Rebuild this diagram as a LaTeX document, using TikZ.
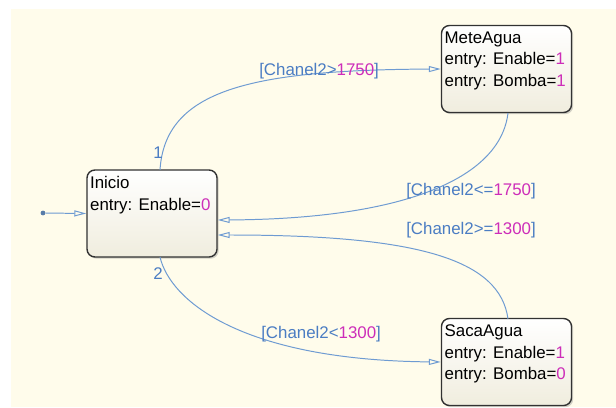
\documentclass[tikz,border=0pt]{standalone}
\usepackage{fontspec}
\setmainfont{Liberation Sans}
\usetikzlibrary{arrows.meta,shadows}

\definecolor{paper}{RGB}{255,252,235}
\definecolor{boxfoot}{RGB}{240,237,222}
\definecolor{wire}{RGB}{110,155,210}
\definecolor{guard}{RGB}{75,125,195}
\definecolor{val}{RGB}{205,45,185}
\definecolor{frame}{RGB}{50,50,50}

\newcommand{\vl}[1]{\textcolor{val}{#1}}

\begin{document}
\begin{tikzpicture}[x=0.025cm, y=-0.025cm, font=\fontsize{12}{15.3}\selectfont]

    \tikzset{state/.style={%
      draw=frame,%
      line width=1pt,%
      rectangle,%
      rounded corners=0.2cm,%
      minimum width=3.25cm,%
      minimum height=2.175cm,%
      top color=white,%
      bottom color=boxfoot,%
      drop shadow={shadow xshift=1.2pt, shadow yshift=-1.2pt, opacity=0.35}}%
    };

    \tikzset{statetext/.style={anchor=north west, align=left, inner xsep=0.09cm, inner ysep=0.17cm}};
    \tikzset{trans/.style={draw=wire, line width=0.7pt,
      -{Triangle[open, length=0.3cm, width=0.15cm, fill=paper]}}};
    \tikzset{guardlbl/.style={anchor=base west, text=guard, inner sep=0}};

    \useasboundingbox (0,0) rectangle (616,407);
    \fill [paper] (11,9) rectangle (616,407);

    %%%%%%%%%%%%%%%
    %   states    %
    %%%%%%%%%%%%%%%
    \node [state] (ini) at (152,213.5) {};
    \node [state] (mete) at (506.5,69) {};
    \node [state] (saca) at (506.5,362) {};

    \node [statetext] (ini-txt) at (ini.north west) {Inicio\\entry: Enable=\vl{0}};
    \node [statetext] (mete-txt) at (mete.north west) {MeteAgua\\entry: Enable=\vl{1}\\entry: Bomba=\vl{1}};
    \node [statetext] (saca-txt) at (saca.north west) {SacaAgua\\entry: Enable=\vl{1}\\entry: Bomba=\vl{0}};

    %%%%%%%%%%%%%%%
    % transitions %
    %%%%%%%%%%%%%%%
    \node [circle, fill=wire!80!black, inner sep=0, minimum size=0.12cm] (dflt) at (43,213) {};
    \draw [trans] (dflt) -- (ini.west);

    \draw [trans] (160,170) coordinate (ini-n) .. controls (165,90) and (250,70) .. (mete.west);
    \draw [trans] (508,113) coordinate (mete-s) .. controls (500,180) and (400,219) .. (ini.east |- 0,220);
    \draw [trans] (508,319) coordinate (saca-n) .. controls (500,260) and (420,235) .. (ini.east |- 0,235);
    \draw [trans] (160,257) coordinate (ini-s) .. controls (170,300) and (240,360) .. (saca.west);

    \node [guardlbl] (prio1) at (153,158) {1};
    \node [guardlbl] (prio2) at (153,279) {2};

    \node [guardlbl] (g-fill) at (259,75) {[Chanel2>\vl{1750}]};
    \node [guardlbl] (g-back) at (406,195) {[Chanel2<=\vl{1750}]};
    \node [guardlbl] (g-full) at (406,234) {[Chanel2>=\vl{1300}]};
    \node [guardlbl] (g-empty) at (261,338) {[Chanel2<\vl{1300}]};

\end{tikzpicture}
\end{document}
